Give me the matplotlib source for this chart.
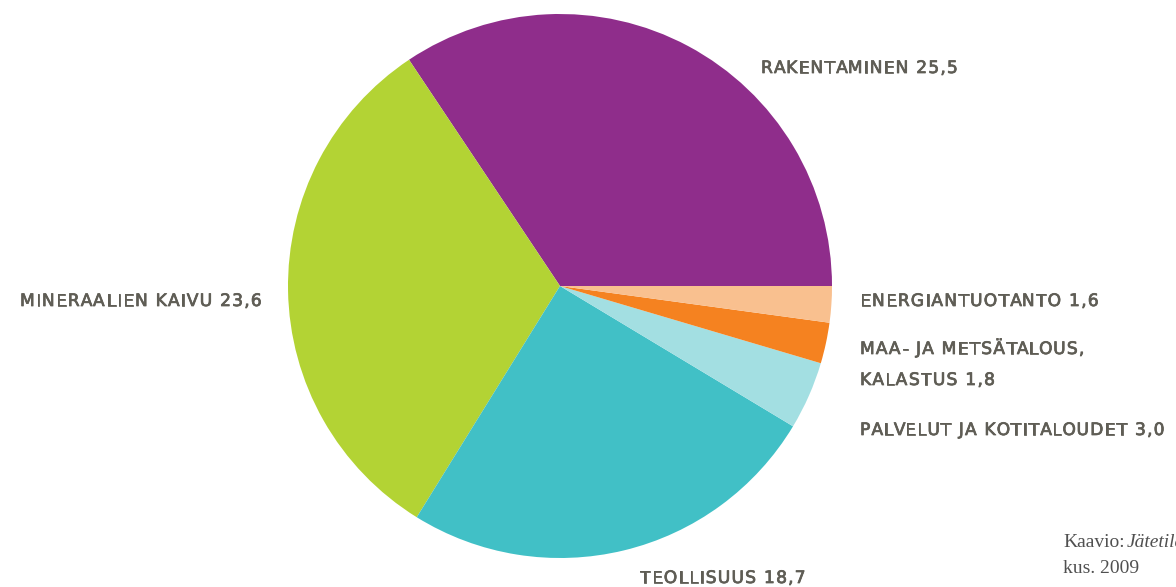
import matplotlib
matplotlib.use("Agg")
import matplotlib.pyplot as plt
import matplotlib.patheffects as pe
from matplotlib.transforms import offset_copy

# waste by sector, million tonnes
sectors = ["RAKENTAMINEN", "MINERAALIEN KAIVU", "TEOLLISUUS",
           "PALVELUT JA KOTITALOUDET", "MAA- JA METSÄTALOUS,\nKALASTUS", "ENERGIANTUOTANTO"]
values = [25.5, 23.6, 18.7, 3.0, 1.8, 1.6]
colors = ["#8f2d8b", "#b3d334", "#41c0c6", "#a3dfe2", "#f58220", "#f9c08f"]

# label anchor (left edge, vertical centre of first line), pixels from top-left
label_pos = [(761, 68), (20, 301), (640, 578), (860, 430), (860, 349), (860, 301)]
line_gap = 31

W, H = 1176, 587
fig = plt.figure(figsize=(W / 100, H / 100), dpi=100)
ax = fig.add_axes([0, 0, 1, 1])

ax.pie(values, colors=colors, startangle=0, counterclock=True,
       center=(560, H - 286), radius=272, frame=True,
       wedgeprops=dict(linewidth=0))
ax.set_xlim(0, W)
ax.set_ylim(0, H)
ax.set_aspect("equal")
ax.axis("off")

renderer = fig.canvas.get_renderer()
txt_color = "#5f5d55"
font = dict(fontsize=12.3, family="DejaVu Sans", color=txt_color)
heavy = [pe.withStroke(linewidth=0.55, foreground=txt_color)]


def text_width(s, **kw):
    # measure with a trailing bar so trailing spaces keep their advance
    t = ax.text(0, 0, s + "|", **kw)
    bar = ax.text(0, 0, "|", **kw)
    w = t.get_window_extent(renderer).width - bar.get_window_extent(renderer).width
    t.remove()
    bar.remove()
    return w


def tracked_text(x, y, s, track=2.0, **kw):
    # draw caps one letter at a time with extra spacing between them
    for i, ch in enumerate(s):
        dx = text_width(s[:i], **kw) + i * track if i else 0
        tr = offset_copy(ax.transData, fig=fig, x=dx * 72 / fig.dpi, y=0, units="points")
        ax.text(x, y, ch, ha="left", va="center", transform=tr,
                path_effects=heavy, **kw)


for name, val, (x, y) in zip(sectors, values, label_pos):
    label = f"{name} {val:.1f}".replace(".", ",")
    for k, line in enumerate(label.split("\n")):
        tracked_text(x, H - y - k * line_gap, line, track=1.2, **font)

# source note, running off the right edge
note = dict(fontsize=14, family="Liberation Serif", color="#505050")
ax.text(1063, H - 547, "Kaavio:", ha="left", va="baseline", **note)
kx = 1063 + text_width("Kaavio:", **note) + 2
ax.text(kx, H - 547, "Jätetilastot", ha="left", va="baseline", style="italic", **note)
ax.text(1063, H - 573, "kus. 2009", ha="left", va="baseline", **note)

fig.savefig("out.png", dpi=100, facecolor="white")
